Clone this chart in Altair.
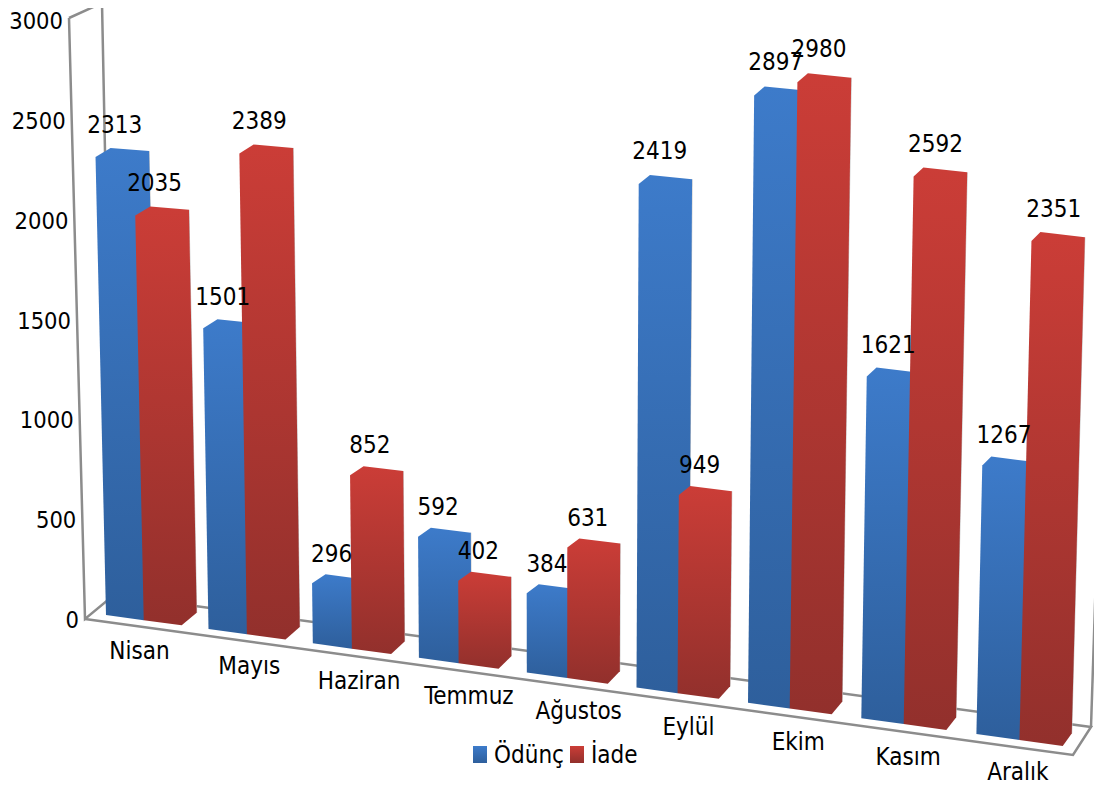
import altair as alt
import pandas as pd

months = ["Nisan", "Mayıs", "Haziran", "Temmuz", "Ağustos", "Eylül", "Ekim", "Kasım", "Aralık"]
odunc = [2313, 1501, 296, 592, 384, 2419, 2897, 1621, 1267]
iade = [2035, 2389, 852, 402, 631, 949, 2980, 2592, 2351]
y_ticks = [0, 500, 1000, 1500, 2000, 2500, 3000]
series_names = ["Ödünç", "İade"]

FONT = "DejaVu Sans Condensed"
W, H = 1086, 781


# Perspective model of the 3D chart (results are in picture units)
def floor(u):
    x = 106 + 101.6 * u + 0.9 * u * u
    return x, 615 + 0.1368 * (x - 106)


def lift(bx, by, v):
    scale = 0.198 + 1.555e-5 * (bx - 106) + 9.5e-9 * (bx - 106) * (1019 - bx)
    h = v * scale
    return bx + (bx - 551) * 5.14e-5 * h, by - h


BAR = 0.37
bars, labels = [], []
for s, vals in enumerate([odunc, iade]):
    for i, v in enumerate(vals):
        depth = 15 - 0.75 * i
        f = floor(i + s * BAR)
        e = floor(i + (s + 1) * BAR)
        a = lift(*f, v)
        r = lift(*e, v)
        pts = [
            a,
            (a[0] + depth, a[1] - 9),
            (r[0] + depth, r[1] - 9),
            (e[0] + depth, e[1] - 12.5),
            e,
            f,
        ]
        for k, (x, y) in enumerate(pts):
            bars.append({"bar": f"{s}-{i}", "series": s, "k": k, "x": x, "y": y})
        labels.append(
            {"series": s, "text": str(v), "x": (a[0] + r[0]) / 2,
             "y": a[1] - 32 + 4.5 * (1 - v / 2600)}
        )
bars = pd.DataFrame(bars)
labels = pd.DataFrame(labels)

cat_labels = pd.DataFrame(
    [{"text": m, "x": 139.5 + 109.8 * i, "y": 652 + 15.1 * i} for i, m in enumerate(months)]
)


def wall(v):
    t = v / 3000
    return 85 - 16 * t, 619 - 599 * t


tick_labels = pd.DataFrame(
    [{"text": str(v), "x": wall(v)[0] - 6, "y": wall(v)[1] + 2} for v in y_ticks]
)

frame_paths = [
    [(69, 18), (102, 3), (114, 595), (85, 619), (69, 18)],
    [(85, 619), (1073, 755), (1091, 727), (114, 595)],
    [(1091, 727), (1104, 330)],
]
frame = pd.DataFrame(
    [
        {"path": p, "k": k, "x": x, "y": y}
        for p, path in enumerate(frame_paths)
        for k, (x, y) in enumerate(path)
    ]
)

X = alt.X("x:Q", scale=alt.Scale(domain=[8, 8 + W]), axis=None)
Y = alt.Y("y:Q", scale=alt.Scale(domain=[8 + H, 8]), axis=None)


def grad(top, bottom):
    return alt.Gradient(
        gradient="linear",
        x1=0, x2=0, y1=0, y2=1,
        stops=[alt.GradientStop(offset=0, color=top), alt.GradientStop(offset=1, color=bottom)],
    )


BLUE = grad("#3d7bca", "#2e5f9c")
RED = grad("#cb3d37", "#92302c")

frame_layer = (
    alt.Chart(frame)
    .mark_line(color="#8c8c8c", strokeWidth=2.5)
    .encode(x=X, y=Y, detail="path:N", order="k:Q")
)


def bar_layer(s, g):
    return (
        alt.Chart(bars[bars.series == s])
        .mark_line(interpolate="linear-closed", fill=g, strokeWidth=0)
        .encode(x=X, y=Y, detail="bar:N", order="k:Q")
    )


def edge_layer(s):
    return (
        alt.Chart(bars[(bars.series == s) & (bars.k.isin([2, 3]))])
        .mark_line(color="#c4c4c4", strokeWidth=1)
        .encode(x=X, y=Y, detail="bar:N", order="k:Q")
    )


def text_layer(df, size, align="center"):
    return (
        alt.Chart(df)
        .mark_text(font=FONT, fontSize=size, color="#000000", align=align, baseline="middle")
        .encode(x=X, y=Y, text="text:N")
    )


legend_rects = pd.DataFrame(
    [
        {"series": 0, "x": 473, "x2": 487, "y": 746, "y2": 763},
        {"series": 1, "x": 570, "x2": 584, "y": 746, "y2": 763},
    ]
)
legend_text = pd.DataFrame(
    [
        {"text": series_names[0], "x": 494, "y": 756},
        {"text": series_names[1], "x": 591, "y": 756},
    ]
)


def legend_rect(s, g):
    return (
        alt.Chart(legend_rects[legend_rects.series == s])
        .mark_rect(fill=g)
        .encode(x=X, x2="x2:Q", y=Y, y2="y2:Q")
    )


chart = (
    alt.layer(
        frame_layer,
        edge_layer(0),
        bar_layer(0, BLUE),
        edge_layer(1),
        bar_layer(1, RED),
        text_layer(labels, 24),
        text_layer(cat_labels, 24),
        text_layer(tick_labels, 23.5, "right"),
        legend_rect(0, BLUE),
        legend_rect(1, RED),
        text_layer(legend_text, 24, "left"),
    )
    .properties(width=W, height=H, padding=0, autosize=alt.AutoSizeParams(type="none"))
    .configure_view(stroke=None)
)

chart.save("out.html", embed_options={"renderer": "svg", "actions": False})
